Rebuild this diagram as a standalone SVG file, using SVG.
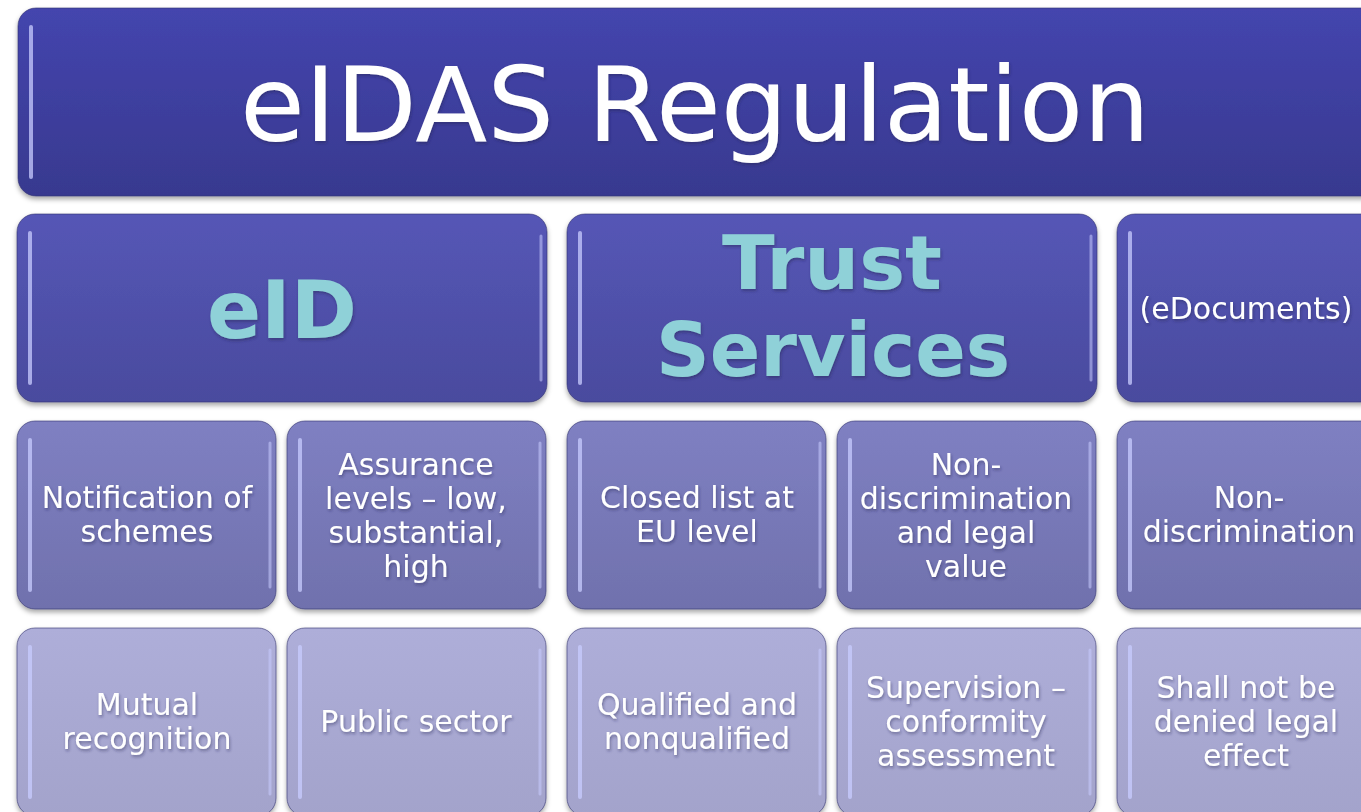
<svg xmlns="http://www.w3.org/2000/svg" width="1361" height="812" viewBox="0 0 1361 812">
<defs>
<linearGradient id="gT" x1="0" y1="0" x2="0" y2="1"><stop offset="0" stop-color="#4445ae"/><stop offset="1" stop-color="#38398f"/></linearGradient>
<linearGradient id="g2" x1="0" y1="0" x2="0" y2="1"><stop offset="0" stop-color="#5556b6"/><stop offset="1" stop-color="#4a4b9e"/></linearGradient>
<linearGradient id="g3" x1="0" y1="0" x2="0" y2="1"><stop offset="0" stop-color="#7f80c2"/><stop offset="1" stop-color="#7071ad"/></linearGradient>
<linearGradient id="g4" x1="0" y1="0" x2="0" y2="1"><stop offset="0" stop-color="#aeaed9"/><stop offset="1" stop-color="#a3a3cb"/></linearGradient>
<filter id="sh" x="-5%" y="-5%" width="110%" height="115%"><feDropShadow dx="0" dy="3" stdDeviation="2.5" flood-color="#000" flood-opacity="0.35"/></filter>
<filter id="tsh" x="-5%" y="-10%" width="110%" height="130%"><feDropShadow dx="1" dy="2" stdDeviation="1.5" flood-color="#202050" flood-opacity="0.45"/></filter>
</defs>
<style>
.box{stroke:#33346e;stroke-width:1;stroke-opacity:0.6;filter:url(#sh)}
.hl{stroke:#c8ccff;stroke-width:4;stroke-linecap:round;opacity:0.75;fill:none}
.hr{stroke:#c8ccff;stroke-width:3;stroke-linecap:round;opacity:0.55;fill:none}
.t{font-family:"DejaVu Sans",Verdana,sans-serif;fill:#ffffff;text-anchor:middle;filter:url(#tsh)}
.s{font-size:30px}
.h{font-family:"DejaVu Sans",Verdana,sans-serif;font-weight:bold;fill:#8fd1d8;text-anchor:middle;filter:url(#tsh)}
</style>
<rect width="1361" height="812" fill="#ffffff"/>

<g id="title">
<rect class="box" x="18" y="8" width="1380" height="188" rx="18" fill="url(#gT)"/>
<line class="hl" x1="31" y1="27" x2="31" y2="177"/>
<text class="t" x="695" y="141" font-size="104" textLength="910" lengthAdjust="spacingAndGlyphs">eIDAS Regulation</text>
</g>

<g id="eid">
<rect class="box" x="17" y="214" width="530" height="188" rx="18" fill="url(#g2)"/>
<line class="hl" x1="30" y1="233" x2="30" y2="383"/>
<line class="hr" x1="541" y1="236" x2="541" y2="380"/>
<text class="h" x="282" y="338" font-size="80" textLength="150" lengthAdjust="spacingAndGlyphs">eID</text>
</g>

<g id="trust">
<rect class="box" x="567" y="214" width="530" height="188" rx="18" fill="url(#g2)"/>
<line class="hl" x1="580" y1="233" x2="580" y2="383"/>
<line class="hr" x1="1091" y1="236" x2="1091" y2="380"/>
<text class="h" x="832" y="289" font-size="74" textLength="220" lengthAdjust="spacingAndGlyphs">Trust</text>
<text class="h" x="833" y="376" font-size="74" textLength="354" lengthAdjust="spacingAndGlyphs">Services</text>
</g>

<g id="edocs">
<rect class="box" x="1117" y="214" width="280" height="188" rx="18" fill="url(#g2)"/>
<line class="hl" x1="1130" y1="233" x2="1130" y2="383"/>
<text class="t" x="1246" y="319" font-size="30">(eDocuments)</text>
</g>

<g id="notification">
<rect class="box" x="17" y="421" width="259" height="188" rx="18" fill="url(#g3)"/>
<line class="hl" x1="30" y1="440" x2="30" y2="590"/>
<line class="hr" x1="270" y1="443" x2="270" y2="587"/>
<text class="t s" x="147" y="508">Notification of</text>
<text class="t s" x="147" y="542">schemes</text>
</g>

<g id="assurance">
<rect class="box" x="287" y="421" width="259" height="188" rx="18" fill="url(#g3)"/>
<line class="hl" x1="300" y1="440" x2="300" y2="590"/>
<line class="hr" x1="540" y1="443" x2="540" y2="587"/>
<text class="t s" x="416" y="475">Assurance</text>
<text class="t s" x="416" y="509">levels – low,</text>
<text class="t s" x="416" y="543">substantial,</text>
<text class="t s" x="416" y="577">high</text>
</g>

<g id="closed">
<rect class="box" x="567" y="421" width="259" height="188" rx="18" fill="url(#g3)"/>
<line class="hl" x1="580" y1="440" x2="580" y2="590"/>
<line class="hr" x1="820" y1="443" x2="820" y2="587"/>
<text class="t s" x="697" y="508">Closed list at</text>
<text class="t s" x="697" y="542">EU level</text>
</g>

<g id="nondisc-legal">
<rect class="box" x="837" y="421" width="259" height="188" rx="18" fill="url(#g3)"/>
<line class="hl" x1="850" y1="440" x2="850" y2="590"/>
<line class="hr" x1="1090" y1="443" x2="1090" y2="587"/>
<text class="t s" x="966" y="475">Non-</text>
<text class="t s" x="966" y="509">discrimination</text>
<text class="t s" x="966" y="543">and legal</text>
<text class="t s" x="966" y="577">value</text>
</g>

<g id="nondisc">
<rect class="box" x="1117" y="421" width="280" height="188" rx="18" fill="url(#g3)"/>
<line class="hl" x1="1130" y1="440" x2="1130" y2="590"/>
<text class="t s" x="1249" y="508">Non-</text>
<text class="t s" x="1249" y="542">discrimination</text>
</g>

<g id="mutual">
<rect class="box" x="17" y="628" width="259" height="188" rx="18" fill="url(#g4)"/>
<line class="hl" x1="30" y1="647" x2="30" y2="797"/>
<line class="hr" x1="270" y1="650" x2="270" y2="794"/>
<text class="t s" x="147" y="715">Mutual</text>
<text class="t s" x="147" y="749">recognition</text>
</g>

<g id="public">
<rect class="box" x="287" y="628" width="259" height="188" rx="18" fill="url(#g4)"/>
<line class="hl" x1="300" y1="647" x2="300" y2="797"/>
<line class="hr" x1="540" y1="650" x2="540" y2="794"/>
<text class="t s" x="416" y="732">Public sector</text>
</g>

<g id="qualified">
<rect class="box" x="567" y="628" width="259" height="188" rx="18" fill="url(#g4)"/>
<line class="hl" x1="580" y1="647" x2="580" y2="797"/>
<line class="hr" x1="820" y1="650" x2="820" y2="794"/>
<text class="t s" x="697" y="715">Qualified and</text>
<text class="t s" x="697" y="749">nonqualified</text>
</g>

<g id="supervision">
<rect class="box" x="837" y="628" width="259" height="188" rx="18" fill="url(#g4)"/>
<line class="hl" x1="850" y1="647" x2="850" y2="797"/>
<line class="hr" x1="1090" y1="650" x2="1090" y2="794"/>
<text class="t s" x="966" y="698">Supervision –</text>
<text class="t s" x="966" y="732">conformity</text>
<text class="t s" x="966" y="766">assessment</text>
</g>

<g id="legal-effect">
<rect class="box" x="1117" y="628" width="280" height="188" rx="18" fill="url(#g4)"/>
<line class="hl" x1="1130" y1="647" x2="1130" y2="797"/>
<text class="t s" x="1246" y="698">Shall not be</text>
<text class="t s" x="1246" y="732">denied legal</text>
<text class="t s" x="1246" y="766">effect</text>
</g>

<g id="connectors"></g>
</svg>
